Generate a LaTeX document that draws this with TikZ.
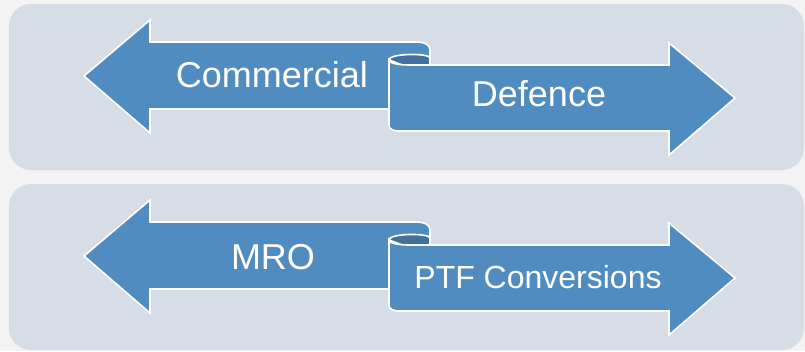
\documentclass[tikz,border=0pt]{standalone}
\usepackage{fontspec}
\setmainfont{Liberation Sans}

\definecolor{pagebg}{HTML}{F3F3F3}
\definecolor{panelbg}{HTML}{D6DDE6}
\definecolor{ribbonblue}{HTML}{508CC0}
\definecolor{ribbonback}{HTML}{41719F}

\begin{document}
\begin{tikzpicture}[x=1pt, y=-1pt,
    panel/.style={fill=panelbg, rounded corners=22pt},
    ribbon/.style={fill=ribbonblue, draw=white, line width=1.6pt, line join=miter},
    fold/.style={fill=ribbonback, draw=white, line width=1.6pt},
    lbl/.style={text=white, anchor=base, inner sep=0pt}]

      \useasboundingbox (0,0) rectangle (805,351);
      \fill[pagebg] (0,0) rectangle (805,351);

      \foreach \dy in {0,180} {
      \begin{scope}[shift={(0,\dy)}]
      % background panel
      \fill[panel] (9,4) rectangle (804,170);

      % left pointing half of the ribbon
      \draw[ribbon] (84,76) -- (150,20) -- (150,42) -- (414,42)
      .. controls (424,42) and (430,44) .. (430,50)
      -- (430,109) -- (150,109) -- (150,133) -- cycle;

      % back side of the fold
      \draw[fold] (389,60) .. controls (389,53) and (430,53) .. (430,58)
      -- (430,66) -- (405,66) -- cycle;

      % right pointing half, in front
      \draw[ribbon] (389,60) .. controls (389,63) and (397,65) .. (409,65)
      -- (669,65) -- (669,43) -- (735,98) -- (669,155) -- (669,131)
      -- (399,131) .. controls (393,131) and (389,129) .. (389,125) -- cycle;
      \end{scope}
      }

      % labels of the upper ribbon
      \node[lbl, font=\fontsize{36}{40}\selectfont] (commercial) at (272,87) {Commercial};
      \node[lbl, font=\fontsize{36}{40}\selectfont] (defence) at (539,106) {Defence};

      % labels of the lower ribbon
      \node[lbl, font=\fontsize{36}{40}\selectfont] (mro) at (273,269) {MRO};
      \node[lbl, font=\fontsize{32}{36}\selectfont] (ptf) at (538,288) {PTF Conversions};
    \end{tikzpicture}
\end{document}
